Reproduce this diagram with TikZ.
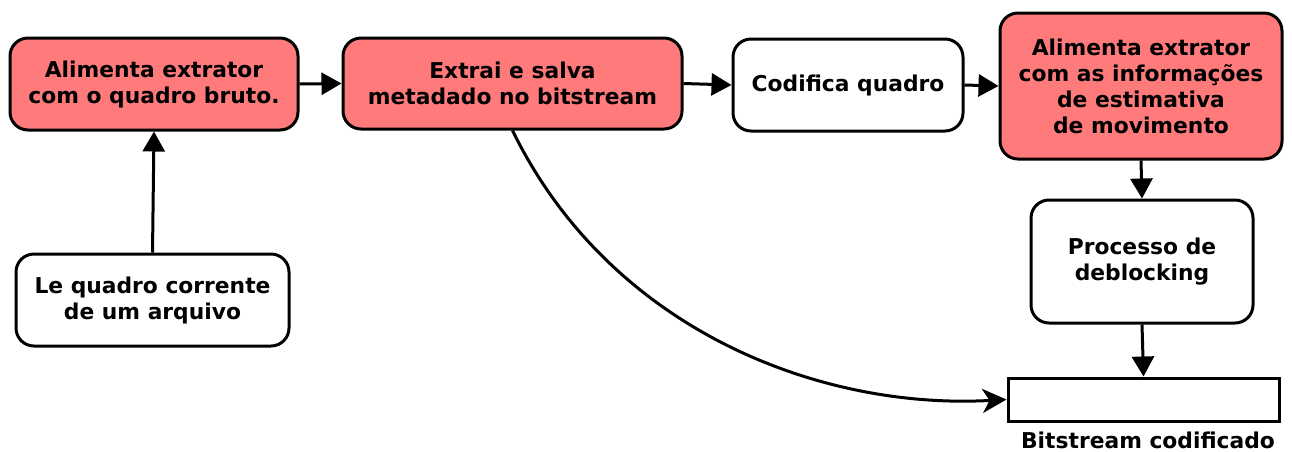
\documentclass[tikz,border=0pt]{standalone}
\usepackage{fontspec}
\setmainfont{DejaVu Sans}
\usetikzlibrary{arrows.meta}
\definecolor{boxred}{HTML}{FF7B7B}
\tikzset{
  boxfont/.style={font=\fontsize{21.8}{26}\selectfont\bfseries},
  stepbox/.style={draw=black, line width=3pt, rounded corners=18pt, align=center,
    boxfont, inner sep=0pt},
  redbox/.style={stepbox, fill=boxred},
  whitebox/.style={stepbox, fill=white},
  conn/.style={draw=black, line width=3pt, -{Triangle[length=20pt,width=22pt]}},
}
\begin{document}
\begin{tikzpicture}[x=1pt,y=-1pt]
\useasboundingbox (0,0) rectangle (1292,451);
\node[redbox, minimum width=288pt, minimum height=92pt] (a1) at (154,84) {Alimenta extrator\\com o quadro bruto.};
\node[redbox, minimum width=339pt, minimum height=91pt] (a2) at (512.5,83.5) {Extrai e salva\\metadado no bitstream};
\node[whitebox, minimum width=230pt, minimum height=92pt] (a3) at (848,85) {Codifica quadro};
\node[redbox, minimum width=282pt, minimum height=146pt] (a4) at (1141,86) {Alimenta extrator\\com as informações\\de estimativa\\de movimento};
\node[whitebox, minimum width=222pt, minimum height=123pt] (a5) at (1142,261.5) {Processo de\\deblocking};
\node[draw=black, line width=3pt, fill=white, minimum width=271pt, minimum height=43pt, inner sep=0pt] (a6) at (1143.5,399.5) {};
\node[boxfont, anchor=center] (a6l) at (1148,440) {Bitstream codificado};
\node[whitebox, minimum width=273pt, minimum height=92pt] (a7) at (152.5,300) {Le quadro corrente\\de um arquivo};
\draw[conn] (a7.north) -- (a1.south);
\draw[conn] (a1.east) -- (a2.west);
\draw[conn] (a2.east) -- (a3.west);
\draw[conn] (a3.east) -- (a4.west);
\draw[conn] (a4.south) -- (a5.north);
\draw[conn] (a5.south) -- (a6.north);
\draw[draw=black, line width=3pt, -{Stealth[length=24pt,width=24pt,inset=7pt]}] (a2.south) .. controls (610,330) and (820,410) .. (a6.west);
\end{tikzpicture}
\end{document}
